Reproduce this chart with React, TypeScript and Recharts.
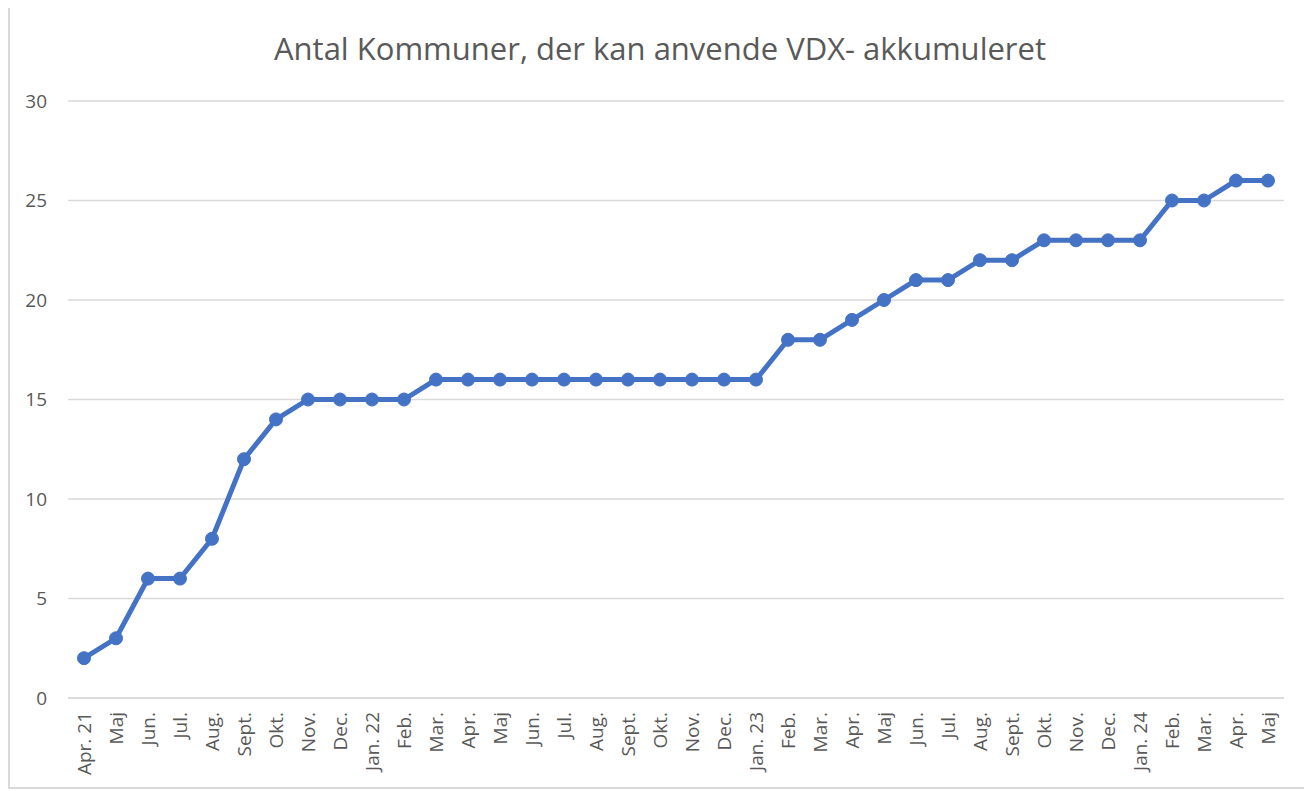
import { LineChart, Line, XAxis, YAxis, CartesianGrid } from "recharts";

const months = [
  "Apr. 21", "Maj", "Jun.", "Jul.", "Aug.", "Sept.", "Okt.", "Nov.", "Dec.",
  "Jan. 22", "Feb.", "Mar.", "Apr.", "Maj", "Jun.", "Jul.", "Aug.", "Sept.",
  "Okt.", "Nov.", "Dec.", "Jan. 23", "Feb.", "Mar.", "Apr.", "Maj", "Jun.",
  "Jul.", "Aug.", "Sept.", "Okt.", "Nov.", "Dec.", "Jan. 24", "Feb.", "Mar.",
  "Apr.", "Maj",
];

const kommuner = [
  2, 3, 6, 6, 8, 12, 14, 15, 15, 15, 15, 16, 16, 16, 16, 16, 16, 16, 16, 16,
  16, 16, 18, 18, 19, 20, 21, 21, 22, 22, 23, 23, 23, 23, 25, 25, 26, 26,
];

const yTicks = [0, 5, 10, 15, 20, 25, 30];

const data = months.map((m, i) => ({ month: m, value: kommuner[i] }));

const FONT = "'Open Sans', sans-serif";
const TEXT = "#595959";

const MonthTick = ({ x, y, payload }: any) => (
  <g transform={`translate(${x},${y})`}>
    <text
      transform="rotate(-90)"
      textAnchor="end"
      dy="0.35em"
      fill={TEXT}
      fontSize={19}
      fontFamily={FONT}
    >
      {payload.value}
    </text>
  </g>
);

export default function App() {
  return (
    <div
      style={{
        position: "relative",
        width: 1300,
        height: 779,
        marginTop: -2,
        border: "2px solid #d9d9d9",
        background: "#fff",
      }}
    >
      <div
        style={{
          position: "absolute",
          top: 19,
          left: 0,
          width: "100%",
          textAlign: "center",
          fontFamily: FONT,
          fontSize: 31,
          color: TEXT,
        }}
      >
        Antal Kommuner, der kan anvende VDX- akkumuleret
      </div>
      <LineChart
        width={1300}
        height={779}
        data={data}
        margin={{ top: 93, right: 26, bottom: 9, left: 18 }}
      >
        <CartesianGrid vertical={false} stroke="#d9d9d9" strokeWidth={1.5} />
        <XAxis
          dataKey="month"
          interval={0}
          height={80}
          padding={{ left: 16, right: 16 }}
          tickLine={false}
          tickSize={0}
          tickMargin={14}
          axisLine={{ stroke: "#d9d9d9", strokeWidth: 1.5 }}
          tick={<MonthTick />}
        />
        <YAxis
          width={40}
          domain={[0, 30]}
          ticks={yTicks}
          axisLine={false}
          tickLine={false}
          tickSize={0}
          tickMargin={21}
          tick={{ fill: TEXT, fontSize: 19, fontFamily: FONT }}
        />
        <Line
          type="linear"
          dataKey="value"
          stroke="#4472c4"
          strokeWidth={5}
          dot={{ r: 6.5, fill: "#4472c4", stroke: "#4472c4", strokeWidth: 1 }}
          isAnimationActive={false}
        />
      </LineChart>
    </div>
  );
}
